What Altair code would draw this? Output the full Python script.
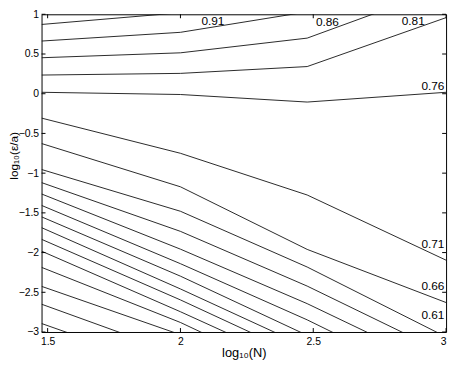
import altair as alt
import pandas as pd

# x positions of the data grid: log10(N) for N = 30, 100, 300, 1000
LOG_N = [1.4771, 2.0, 2.4771, 3.0]

# contour levels and the log10(eps/a) value of each contour at the four LOG_N points
LEVELS = [0.96, 0.91, 0.86, 0.81, 0.76, 0.71, 0.66, 0.61, 0.56, 0.51,
          0.46, 0.41, 0.36, 0.31, 0.26, 0.21, 0.16, 0.11, 0.06]
Y_096 = [0.872, 1.020, 1.150, 1.250]
Y_091 = [0.663, 0.773, 1.031, 1.150]
Y_086 = [0.453, 0.515, 0.700, 1.339]
Y_081 = [0.235, 0.256, 0.342, 0.958]
Y_076 = [0.018, -0.010, -0.105, 0.018]
Y_071 = [-0.307, -0.750, -1.275, -2.096]
Y_066 = [-0.627, -1.172, -1.960, -2.629]
Y_061 = [-0.954, -1.480, -2.182, -3.062]
Y_056 = [-1.119, -1.733, -2.422, -3.271]
Y_051 = [-1.262, -1.957, -2.643, -3.479]
Y_046 = [-1.406, -2.140, -2.847, -3.704]
Y_041 = [-1.550, -2.297, -3.042, -3.899]
Y_036 = [-1.686, -2.458, -3.192, -4.054]
Y_031 = [-1.833, -2.596, -3.335, -4.197]
Y_026 = [-1.982, -2.745, -3.470, -4.333]
Y_021 = [-2.186, -2.880, -3.631, -4.493]
Y_016 = [-2.425, -3.034, -3.746, -4.608]
Y_011 = [-2.650, -3.282, -3.956, -4.818]
Y_006 = [-2.893, -3.507, -4.177, -5.039]
CONTOUR_Y = [Y_096, Y_091, Y_086, Y_081, Y_076, Y_071, Y_066, Y_061, Y_056, Y_051,
             Y_046, Y_041, Y_036, Y_031, Y_026, Y_021, Y_016, Y_011, Y_006]

# contour labels
LABEL_TEXT = ["0.91", "0.86", "0.81", "0.76", "0.71", "0.66", "0.61"]
LABEL_X = [2.079, 2.510, 2.833, 2.907, 2.907, 2.907, 2.907]
LABEL_Y = [0.863, 0.853, 0.863, 0.043, -1.948, -2.466, -2.835]

X_TICKS = [1.5, 2.0, 2.5, 3.0]
Y_TICKS = [-3.0, -2.5, -2.0, -1.5, -1.0, -0.5, 0.0, 0.5, 1.0]

W, H = 410, 322
FONT = "Liberation Sans"

rows = []
for lev, ys in zip(LEVELS, CONTOUR_Y):
    for xv, yv in zip(LOG_N, ys):
        rows.append({"logN": xv, "logE": yv, "level": lev})
lines_df = pd.DataFrame(rows)
labels_df = pd.DataFrame({"logN": LABEL_X, "logE": LABEL_Y, "label": LABEL_TEXT})
xt_df = pd.DataFrame({"logN": X_TICKS})
yt_df = pd.DataFrame({"logE": Y_TICKS})

xscale = alt.Scale(domain=[1.4771, 3.0], nice=False, zero=False)
yscale = alt.Scale(domain=[-3.0, 1.0], nice=False, zero=False)

xaxis = alt.Axis(values=X_TICKS, format="~g", ticks=False, domain=False, grid=False,
                 labelFont=FONT, labelFontSize=10.5, labelColor="black", labelPadding=5,
                 title="log₁₀(N)", titleFont=FONT, titleFontSize=13, titleFontWeight="normal",
                 titleColor="black", titleY=25, titleBaseline="alphabetic")
yaxis = alt.Axis(values=Y_TICKS, format="~g", ticks=False, domain=False, grid=False,
                 labelFont=FONT, labelFontSize=10.5, labelColor="black", labelPadding=3,
                 title="log₁₀(ε/a)", titleFont=FONT, titleFontSize=12, titleFontWeight="normal",
                 titleColor="black", titleX=-24, titleY=143, titleBaseline="alphabetic")

lines = alt.Chart(lines_df).mark_line(clip=True, color="#111", strokeWidth=0.9).encode(
    x=alt.X("logN:Q", scale=xscale, axis=xaxis),
    y=alt.Y("logE:Q", scale=yscale, axis=yaxis),
    detail="level:N",
    order="logN:Q",
)

labels = alt.Chart(labels_df).mark_text(
    align="left", baseline="alphabetic", font=FONT, fontSize=12, color="black"
).encode(x=alt.X("logN:Q", scale=xscale), y=alt.Y("logE:Q", scale=yscale), text="label:N")

tick_style = dict(color="black", strokeWidth=1)
bottom_ticks = alt.Chart(xt_df).mark_rule(**tick_style).encode(
    x=alt.X("logN:Q", scale=xscale), y=alt.value(H), y2=alt.value(H - 4))
top_ticks = alt.Chart(xt_df).mark_rule(**tick_style).encode(
    x=alt.X("logN:Q", scale=xscale), y=alt.value(0), y2=alt.value(4))
left_ticks = alt.Chart(yt_df).mark_rule(**tick_style).encode(
    y=alt.Y("logE:Q", scale=yscale), x=alt.value(0), x2=alt.value(4))
right_ticks = alt.Chart(yt_df).mark_rule(**tick_style).encode(
    y=alt.Y("logE:Q", scale=yscale), x=alt.value(W), x2=alt.value(W - 4))

chart = alt.layer(lines, labels, bottom_ticks, top_ticks, left_ticks, right_ticks).properties(
    width=W, height=H,
    autosize=alt.AutoSizeParams(type="none"),
    padding={"left": 34, "top": 4, "right": 6, "bottom": 26},
    background="white",
).configure_view(stroke="black", strokeWidth=1)

chart.save("out.html", embed_options={"renderer": "svg", "actions": False})
